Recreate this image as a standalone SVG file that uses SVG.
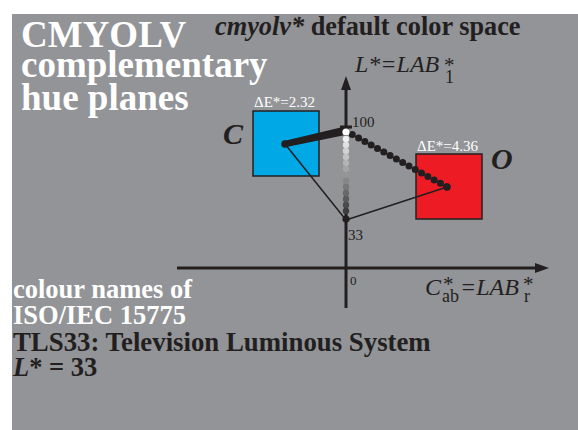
<svg xmlns="http://www.w3.org/2000/svg" width="578" height="430" viewBox="0 0 578 430">
<defs>
<style>
.serif{font-family:"Liberation Serif","Times New Roman",serif}
.wb{fill:#ffffff;font-weight:bold}
.db{fill:#231f20;font-weight:bold}
.ax{stroke:#231f20;stroke-width:3;fill:none}
.thin{stroke:#231f20;stroke-width:1.5;fill:none}
.lbl{fill:#231f20;font-size:15px}
.de{fill:#ffffff;font-size:15px}
.it{font-style:italic}
.up{font-style:normal}
.sq{stroke:#231f20;stroke-width:1.5}
.dk{fill:#231f20}
</style>
</defs>
<rect x="0" y="0" width="578" height="430" fill="#ffffff"/>
<rect x="12" y="14" width="566" height="416" fill="#929497"/>

<g id="titles" class="serif">
<text class="wb" x="21" y="46.5" font-size="37">CMYOLV</text>
<text class="wb" x="21" y="77" font-size="37">complementary</text>
<text class="wb" x="21" y="110" font-size="37">hue planes</text>
<text class="db" x="215" y="35" font-size="26.3"><tspan font-style="italic">cmyolv*</tspan> default color space</text>
<text class="wb" x="13" y="298" font-size="26.5">colour names of</text>
<text class="wb" x="13" y="324" font-size="26.5">ISO/IEC 15775</text>
<text class="db" x="13" y="351" font-size="26.8">TLS33: Television Luminous System</text>
<text class="db" x="13" y="376" font-size="26.5"><tspan font-style="italic">L</tspan>* = 33</text>
</g>

<g id="axes">
<line class="ax" x1="346" y1="86" x2="346" y2="308"/>
<polygon points="346,76 341,90 351,90" fill="#231f20"/>
<line class="ax" x1="177" y1="268" x2="538" y2="268"/>
<polygon points="549,268 535,263 535,273" fill="#231f20"/>
<line class="ax" x1="340" y1="127" x2="352" y2="127"/>
<text class="serif lbl" x="352" y="127">100</text>
<text class="serif lbl" x="348" y="240">33</text>
<text class="serif dk" x="350" y="285" font-size="13">0</text>
<text class="serif it dk" x="355" y="72" font-size="24">L*=LAB<tspan x="443" y="72" font-size="21">*</tspan><tspan class="up" x="445" y="83" font-size="18">1</tspan></text>
<text class="serif it dk" x="425" y="295" font-size="24">C<tspan x="442" y="291" font-size="21">*</tspan><tspan class="up" x="442" y="302" font-size="18">ab</tspan><tspan x="460" y="295">=LAB</tspan><tspan x="522" y="291" font-size="21">*</tspan><tspan class="up" x="524" y="302" font-size="18">r</tspan></text>
</g>

<g id="node-C">
<rect class="sq" x="253" y="111" width="66" height="65" fill="#00a8e6"/>
<text class="serif de" x="254" y="107">ΔE*=2.32</text>
<text class="serif db it" x="223" y="144" font-size="30">C</text>
</g>

<g id="node-O">
<rect class="sq" x="416" y="154" width="66" height="65" fill="#ed1c24"/>
<text class="serif de" x="417" y="151">ΔE*=4.36</text>
<text class="serif db it" x="491" y="169" font-size="30">O</text>
</g>

<g id="connectors">
<line class="thin" x1="285" y1="144" x2="346" y2="220"/>
<line class="thin" x1="346" y1="220" x2="447" y2="187"/>
<path d="M285,141.5 L344,127.5 L344,134.5 L285,146.5 Z" fill="#231f20" stroke="#231f20" stroke-width="1.5" stroke-linejoin="round"/>
<circle cx="285" cy="144" r="3.8" fill="#231f20"/>
<line x1="346" y1="131" x2="447" y2="187" stroke="#231f20" stroke-width="7" stroke-linecap="round" stroke-dasharray="0 7.2"/>
<circle cx="447" cy="187" r="3.8" fill="#231f20"/>
<circle cx="346" cy="211" r="3.2" fill="#3c3c3c"/>
<circle cx="346" cy="205" r="3.2" fill="#4b4b4b"/>
<circle cx="346" cy="199" r="3.2" fill="#5a5a5a"/>
<circle cx="346" cy="193" r="3.2" fill="#696969"/>
<circle cx="346" cy="187" r="3.2" fill="#787878"/>
<circle cx="346" cy="181" r="3.2" fill="#878787"/>
<circle cx="346" cy="175" r="3.2" fill="#969696"/>
<circle cx="346" cy="169" r="3.2" fill="#a5a5a5"/>
<circle cx="346" cy="163" r="3.2" fill="#b4b4b4"/>
<circle cx="346" cy="157" r="3.2" fill="#c3c3c3"/>
<circle cx="346" cy="151" r="3.2" fill="#d2d2d2"/>
<circle cx="346" cy="145" r="3.2" fill="#e1e1e1"/>
<circle cx="346" cy="139" r="3.2" fill="#f0f0f0"/>
<circle cx="346" cy="132" r="3.6" fill="#ffffff"/>
<circle cx="346" cy="219" r="3.6" fill="#231f20"/>
</g>
</svg>
